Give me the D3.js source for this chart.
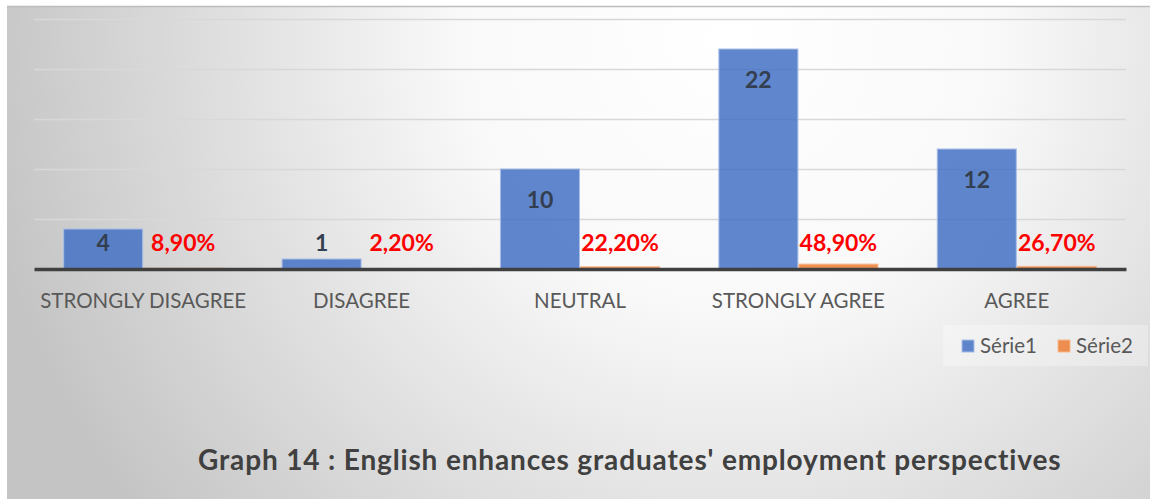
<!DOCTYPE html>
<html>
<head>
<meta charset="utf-8">
<script src="https://cdn.jsdelivr.net/npm/d3@7/dist/d3.min.js"></script>
<style>
  html, body { margin: 0; padding: 0; background: #ffffff; }
  svg { display: block; }
  text { font-family: Lato, "Open Sans", sans-serif; }
</style>
</head>
<body>
<svg id="chart" width="1150" height="499"></svg>
<script>
// Survey answers: counts (Série1) and shares (Série2)
const categories = ["STRONGLY DISAGREE", "DISAGREE", "NEUTRAL", "STRONGLY AGREE", "AGREE"];
const serie1 = [4, 1, 10, 22, 12];
const serie2 = [0.089, 0.022, 0.222, 0.489, 0.267];
const seriesNames = ["Série1", "Série2"];
const gridTicks = [5, 10, 15, 20, 25];
const title = "Graph 14 : English enhances graduates' employment perspectives";

const W = 1150, H = 499;
const svg = d3.select("#chart");
const defs = svg.append("defs");

// Soft radial background of the chart area
const bg = defs.append("radialGradient")
  .attr("id", "bgGrad")
  .attr("gradientUnits", "userSpaceOnUse")
  .attr("cx", 730).attr("cy", 40).attr("r", 760);
bg.append("stop").attr("offset", "0%").attr("stop-color", "#ffffff");
bg.append("stop").attr("offset", "35%").attr("stop-color", "#f9f9f9");
bg.append("stop").attr("offset", "100%").attr("stop-color", "#c4c4c4");

// Gridlines fade toward the top
const gg = defs.append("linearGradient")
  .attr("id", "gridGrad")
  .attr("gradientUnits", "userSpaceOnUse")
  .attr("x1", 0).attr("y1", 15).attr("x2", 0).attr("y2", 225);
gg.append("stop").attr("offset", "0%").attr("stop-color", "#d8d8d8");
gg.append("stop").attr("offset", "45%").attr("stop-color", "#bcbcbc");
gg.append("stop").attr("offset", "75%").attr("stop-color", "#939393");
gg.append("stop").attr("offset", "100%").attr("stop-color", "#858585");

svg.append("rect")
  .attr("x", 7).attr("y", 6).attr("width", W - 7).attr("height", H - 6)
  .attr("fill", "url(#bgGrad)");
svg.append("line")
  .attr("x1", 7).attr("x2", W).attr("y1", 6.5).attr("y2", 6.5)
  .attr("stroke", "#bdbdbd").attr("stroke-width", 1.5);

// Scales
const plotLeft = 34, plotRight = 1126;
const y = d3.scaleLinear().domain([0, 25]).range([269, 19]);
const x0 = d3.scaleBand().domain(categories).range([plotLeft, plotRight])
  .paddingInner(0.267).paddingOuter(0.1335);
const x1 = d3.scaleBand().domain(seriesNames).range([0, x0.bandwidth()]);

// Gridlines
svg.append("g")
  .attr("transform", `translate(${plotLeft},0)`)
  .call(d3.axisLeft(y).tickValues(gridTicks).tickSize(-(plotRight - plotLeft)).tickFormat(""))
  .call(g => g.select(".domain").remove())
  .call(g => g.selectAll(".tick line").attr("stroke", "url(#gridGrad)").attr("stroke-width", 1.5));

const colors = { "Série1": "#4472c4", "Série2": "#ed7d31" };
const strokes = { "Série1": "#a9bde6", "Série2": "#f5b98f" };

const groups = svg.append("g").selectAll("g")
  .data(categories.map((c, i) => ({ cat: c, v: [serie1[i], serie2[i]] })))
  .join("g")
  .attr("transform", d => `translate(${x0(d.cat)},0)`);

groups.selectAll("rect")
  .data(d => seriesNames.map((s, j) => ({ s, v: d.v[j] })))
  .join("rect")
  .attr("x", d => x1(d.s) + 0.5)
  .attr("width", x1.bandwidth() - 1)
  .attr("y", d => y(d.v))
  .attr("height", d => y(0) - y(d.v))
  .attr("fill", d => colors[d.s])
  .attr("fill-opacity", 0.85)
  .attr("stroke", d => strokes[d.s])
  .attr("stroke-width", 1);

// Base axis line with category labels
svg.append("g")
  .attr("transform", `translate(0,${y(0)})`)
  .call(d3.axisBottom(x0).tickSize(0).tickPadding(24))
  .call(g => g.select(".domain").attr("stroke", "#404040").attr("stroke-width", 3.5))
  .call(g => g.selectAll(".tick text")
    .attr("fill", "#595959")
    .attr("font-size", "20.5px")
    .attr("font-family", "Lato, 'Open Sans', sans-serif"));

// Value labels
const frLocale = d3.formatLocale({ decimal: ",", thousands: " ", grouping: [3], currency: ["", " €"] });
const pct = frLocale.format(".2%");

groups.append("text")
  .attr("x", x1("Série1") + x1.bandwidth() / 2)
  .attr("y", d => Math.min(y(d.v[0]) + 39, y(0) - 18))
  .attr("text-anchor", "middle")
  .attr("font-size", "23px").attr("font-weight", 700)
  .attr("fill", "#333f50")
  .text(d => d.v[0]);

groups.append("text")
  .attr("x", x1("Série2") + x1.bandwidth() / 2)
  .attr("y", y(0) - 18)
  .attr("text-anchor", "middle")
  .attr("font-size", "23px").attr("font-weight", 700)
  .attr("fill", "#ff0000")
  .text(d => pct(d.v[1]));

// Legend
const legend = svg.append("g").attr("transform", "translate(943,325)");
legend.append("rect").attr("width", 205).attr("height", 41)
  .attr("fill", "#ffffff").attr("fill-opacity", 0.3);
const li = legend.selectAll("g.item").data(seriesNames).join("g")
  .attr("class", "item")
  .attr("transform", (d, i) => `translate(${19 + i * 96},0)`);
li.append("rect").attr("y", 15).attr("width", 12).attr("height", 12)
  .attr("fill", d => colors[d]).attr("fill-opacity", 0.85)
  .attr("stroke", d => strokes[d]).attr("stroke-width", 1);
li.append("text").attr("x", 18).attr("y", 28)
  .attr("font-size", "20.5px").attr("fill", "#595959")
  .text(d => d);

// Title
svg.append("text")
  .attr("x", 198).attr("y", 470)
  .attr("font-size", "28px").attr("font-weight", 700)
  .attr("letter-spacing", "0.85px")
  .attr("fill", "#404040")
  .text(title);
</script>
</body>
</html>
